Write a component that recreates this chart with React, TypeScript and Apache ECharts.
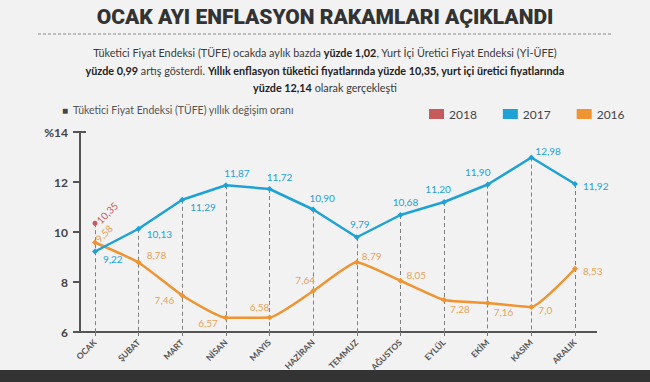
import React, { useEffect, useRef } from "react";
import * as echarts from "echarts";

const months = ["OCAK", "ŞUBAT", "MART", "NİSAN", "MAYIS", "HAZİRAN", "TEMMUZ", "AĞUSTOS", "EYLÜL", "EKİM", "KASIM", "ARALIK"];
const values2017 = [9.22, 10.13, 11.29, 11.87, 11.72, 10.9, 9.79, 10.68, 11.2, 11.9, 12.98, 11.92];
const values2016 = [9.58, 8.78, 7.46, 6.57, 6.58, 7.64, 8.79, 8.05, 7.28, 7.16, 7.0, 8.53];
const values2018: (number | null)[] = [10.35, null, null, null, null, null, null, null, null, null, null, null];
const yTicks = [6, 8, 10, 12, 14];

const C2017 = "#1ea2d6";
const C2016 = "#ef9431";
const C2018 = "#c65b5b";
const L2016 = "#e8a356";

// label placement per point (style only)
const pos2017: any[] = [
  { position: "right", offset: [0, 7] },
  { position: "right", offset: [0, 5] },
  { position: "right", offset: [0, 7] },
  { position: "top", offset: [11, 1] },
  { position: "top", offset: [10, 1] },
  { position: "top", offset: [9, 1] },
  { position: "top", offset: [3, 0] },
  { position: "top", offset: [5, 0] },
  { position: "top", offset: [-6, 0] },
  { position: "top", offset: [-10, 0] },
  { position: "right", offset: [-4, -7] },
  { position: "right", offset: [0, 2] },
];
const pos2016: any[] = [
  { position: "right", distance: 1, rotate: 45, align: "left", verticalAlign: "middle", offset: [0, -3] },
  { position: "right", offset: [0, -8] },
  { position: "left", offset: [0, 4] },
  { position: "left", offset: [0, 5] },
  { position: "top", offset: [-10, 2] },
  { position: "top", offset: [-8, 2] },
  { position: "right", offset: [-3, -6] },
  { position: "right", offset: [-2, -6] },
  { position: "right", offset: [-2, 9] },
  { position: "right", offset: [-2, 9] },
  { position: "right", offset: [-1, 3] },
  { position: "right", offset: [0, 2] },
];

const fmt = (v: number) => (Number.isInteger(v) ? v.toFixed(1) : v.toFixed(2)).replace(".", ",");
const FONT = "Lato, 'Noto Sans', sans-serif";

export default function App() {
  const ref = useRef<HTMLDivElement>(null);
  useEffect(() => {
    const chart = echarts.init(ref.current!, undefined, { renderer: "svg" });
    const tops = months.map((_, i) => Math.max(values2017[i], values2016[i], values2018[i] ?? -Infinity));
    const drops = tops.map((t, i) => [
      { coord: [months[i], t] },
      { coord: [months[i], yTicks[0]] },
    ]);
    const option: any = {
      animation: false,
      backgroundColor: "#f2f2f3",
      textStyle: { fontFamily: FONT },
      grid: { left: 95, right: 75, top: 132, bottom: 50, containLabel: false },
      legend: {
        data: ["2018", "2017", "2016"],
        left: 424,
        top: 103,
        icon: "rect",
        itemWidth: 15,
        itemHeight: 10,
        itemGap: 26,
        textStyle: { color: "#444", fontSize: 12, fontFamily: FONT },
      },
      xAxis: {
        type: "category",
        data: months,
        boundaryGap: false,
        axisLine: { show: false },
        axisTick: { show: true, length: 4, lineStyle: { color: "#777" } },
        axisLabel: { rotate: 45, fontSize: 8.5, fontWeight: "bold", color: "#555", margin: 9, fontFamily: FONT },
        splitLine: { show: false },
      },
      yAxis: {
        type: "value",
        min: yTicks[0],
        max: yTicks[yTicks.length - 1],
        interval: 2,
        offset: 15,
        axisLine: { show: true, lineStyle: { color: "#555", width: 2 } },
        axisTick: { show: true, length: 7, lineStyle: { color: "#555", width: 2 } },
        axisLabel: {
          color: "#444",
          fontSize: 12,
          fontWeight: "bold",
          margin: 12,
          fontFamily: FONT,
          formatter: (v: number) => (v === yTicks[yTicks.length - 1] ? "%" + v : String(v)),
        },
        splitLine: { show: false },
      },
      series: [
        {
          name: "2016",
          type: "line",
          data: values2016.map((v, i) => ({
            value: v,
            label: { show: true, color: L2016, fontSize: 10, formatter: fmt(v), ...pos2016[i] },
          })),
          smooth: 0.15,
          symbol: "diamond",
          symbolSize: 6,
          itemStyle: { color: C2016 },
          lineStyle: { color: C2016, width: 2.5 },
          label: { fontFamily: FONT },
          z: 3,
        },
        {
          name: "2017",
          type: "line",
          data: values2017.map((v, i) => ({
            value: v,
            label: { show: true, color: C2017, fontSize: 10, formatter: fmt(v), ...pos2017[i] },
          })),
          symbol: "diamond",
          symbolSize: 6,
          itemStyle: { color: C2017 },
          lineStyle: { color: C2017, width: 2.5 },
          label: { fontFamily: FONT },
          z: 4,
          markLine: {
            silent: true,
            symbol: ["none", "none"],
            label: { show: false },
            lineStyle: { type: [4, 3], color: "#808080", width: 1 },
            data: drops,
            z: 1,
          },
        },
        {
          name: "2018",
          type: "line",
          data: values2018.map((v) =>
            v == null
              ? null
              : {
                  value: v,
                  label: {
                    show: true,
                    color: C2018,
                    fontSize: 10,
                    formatter: fmt(v),
                    position: "right",
                    distance: 2,
                    rotate: 45,
                    align: "left",
                    verticalAlign: "middle",
                    offset: [0, -2],
                  },
                }
          ),
          symbol: "circle",
          symbolSize: 5,
          itemStyle: { color: C2018 },
          lineStyle: { color: C2018, width: 2 },
          label: { fontFamily: FONT },
          z: 5,
        },
      ],
      graphic: [
        {
          type: "text",
          left: "center",
          top: 6,
          style: {
            text: "OCAK AYI ENFLASYON RAKAMLARI AÇIKLANDI",
            fontFamily: "Roboto, 'Noto Sans', sans-serif",
            fontWeight: 900,
            fontSize: 21,
            fill: "#333",
          },
        },
        {
          type: "line",
          shape: { x1: 38, y1: 34, x2: 612, y2: 34 },
          style: { stroke: "#8a8a8a", lineWidth: 1, lineDash: [3, 2] },
        },
        {
          type: "text",
          x: 325,
          y: 44,
          style: {
            text:
              "{n|Tüketici Fiyat Endeksi (TÜFE) ocakda aylık bazda }{b|yüzde 1,02}{n|, Yurt İçi Üretici Fiyat Endeksi (Yİ-ÜFE)}\n" +
              "{b|yüzde 0,99}{n| artış gösterdi. }{b|Yıllık enflasyon tüketici fiyatlarında yüzde 10,35, yurt içi üretici fiyatlarında}\n" +
              "{b|yüzde 12,14}{n| olarak gerçekleşti}",
            align: "center",
            verticalAlign: "top",
            rich: {
              n: { fontFamily: FONT, fontSize: 10.8, fill: "#3a3a3a", lineHeight: 17.5 },
              b: { fontFamily: FONT, fontSize: 10.8, fontWeight: "bold", fill: "#222", lineHeight: 17.5 },
            },
          },
        },
        {
          type: "text",
          x: 62,
          y: 104,
          style: {
            text: "{s|■}{t|  Tüketici Fiyat Endeksi (TÜFE) yıllık değişim oranı}",
            rich: {
              s: { fontSize: 10, fill: "#444", fontFamily: FONT },
              t: { fontSize: 10.5, fill: "#555", fontFamily: FONT },
            },
          },
        },
        {
          type: "line",
          shape: { x1: 79, y1: 332, x2: 597, y2: 332 },
          style: { stroke: "#555", lineWidth: 2 },
        },
        {
          type: "line",
          shape: { x1: 80, y1: 132, x2: 86, y2: 132 },
          style: { stroke: "#555", lineWidth: 2 },
        },
        {
          type: "rect",
          shape: { x: 0, y: 370, width: 650, height: 12 },
          style: { fill: "#333" },
        },
      ],
    };
    chart.setOption(option);
    return () => chart.dispose();
  }, []);
  return (
    <div
      ref={ref}
      style={{ position: "absolute", left: 0, top: 0, width: 650, height: 382 }}
    />
  );
}
